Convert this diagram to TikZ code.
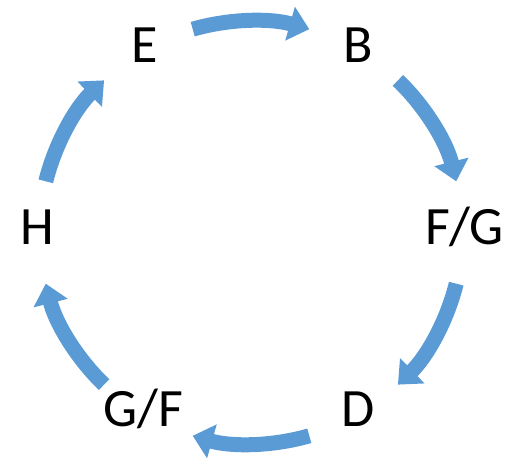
\documentclass[tikz,border=0pt]{standalone}
\usepackage{fontspec}
\setmainfont{Carlito}
\usetikzlibrary{arrows.meta,calc}
\definecolor{cycblue}{HTML}{5B9BD5}
\tikzset{
  lbl/.style={inner sep=0pt, anchor=base, font=\fontsize{54}{54}\selectfont},
  cycarrow/.style={draw=cycblue, line width=15pt, -{Triangle[width=34pt,length=20pt]}},
}
\begin{document}
\begin{tikzpicture}[x=1pt,y=1pt]
\useasboundingbox (0,0) rectangle (517,471);
\coordinate (c) at (251,238.5);
\def\R{211.5}
\node[lbl] (E) at (145,408) {E};
\node[lbl] (B) at (358,408) {B};
\node[lbl] (FG) at (465,226) {F/G};
\node[lbl] (D) at (358,44) {D};
\node[lbl] (GF) at (143,44) {G/F};
\node[lbl] (H) at (37,226) {H};
% arrows between consecutive nodes, along the cycle circle
\foreach \s/\e in {106/74, 46/14, -14/-46, -74/-106, -134/-166, 166/134}{
  \draw[cycarrow] ($(c)+(\s:\R)$) arc[start angle=\s, end angle=\e, radius=\R];
}
\end{tikzpicture}
\end{document}
